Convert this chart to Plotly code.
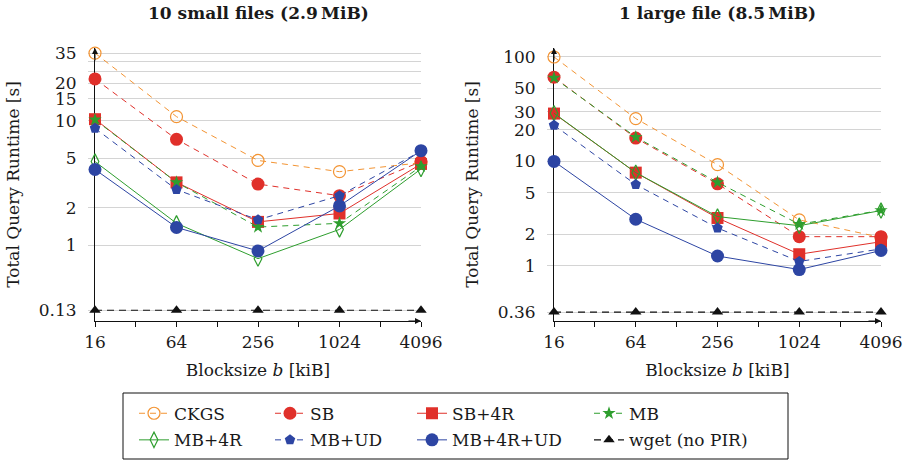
import math
import plotly.graph_objects as go

# ---------------- data ----------------
blocksizes = [16, 64, 256, 1024, 4096]
series_names = ["CKGS", "SB", "SB+4R", "MB", "MB+4R", "MB+UD", "MB+4R+UD", "wget (no PIR)"]

small_ckgs = [35.0, 10.8, 4.8, 3.9, 4.6]
small_sb = [21.7, 7.1, 3.1, 2.5, 4.7]
small_sb4r = [10.3, 3.2, 1.54, 1.8, 4.5]
small_mb = [10.2, 3.2, 1.4, 1.5, 4.3]
small_mb4r = [4.7, 1.5, 0.78, 1.34, 4.1]
small_mbud = [8.7, 2.8, 1.6, 2.5, 5.7]
small_mb4rud = [4.06, 1.39, 0.9, 2.07, 5.75]
small_wget = [0.13, 0.13, 0.13, 0.13, 0.13]

large_ckgs = [100.0, 25.7, 9.3, 2.75, 1.87]
large_sb = [64.0, 16.7, 6.1, 1.9, 1.9]
large_sb4r = [28.7, 7.8, 2.87, 1.29, 1.7]
large_mb = [63.0, 17.1, 6.3, 2.5, 3.4]
large_mb4r = [28.9, 7.8, 2.96, 2.42, 3.38]
large_mbud = [22.2, 6.0, 2.3, 1.1, 1.45]
large_mb4rud = [10.0, 2.79, 1.24, 0.92, 1.4]
large_wget = [0.36, 0.36, 0.36, 0.36, 0.36]

x_ticks = [16, 64, 256, 1024, 4096]
x_minor_ticks = [32, 128, 512, 2048]
left_y_ticks = [1, 2, 5, 10, 15, 20, 25, 30, 35]
left_y_labels = ["1", "2", "5", "10", "15", "20", "", "", "35"]
right_y_ticks = [1, 2, 5, 10, 20, 30, 50, 100]
right_y_labels = ["1", "2", "5", "10", "20", "30", "50", "100"]

# the left panel's y axis is broken: 0.13 s is drawn at this position
LEFT_WGET_POS = 0.30

FONT = "DejaVu Serif"
FS = 17
TXT = "#1a1a1a"
ORANGE = "#F39433"
RED = "#E0302A"
GREEN = "#2E9E2E"
BLUE = "#2D45A3"
BLACK = "#111111"
GRID = "#D4D4D4"

styles = [
    dict(color=ORANGE, dash="6px,5px", symbol="circle-open", size=12, fill=False),
    dict(color=RED, dash="6px,5px", symbol="circle", size=13, fill=True),
    dict(color=RED, dash="solid", symbol="square", size=12, fill=True),
    dict(color=GREEN, dash="6px,5px", symbol="star", size=10, fill=True),
    dict(color=GREEN, dash="solid", symbol="diamond-tall-open", size=11, fill=False),
    dict(color=BLUE, dash="6px,5px", symbol="pentagon", size=11, fill=True),
    dict(color=BLUE, dash="solid", symbol="circle", size=13, fill=True),
    dict(color=BLACK, dash="7px,5px", symbol="triangle-up", size=10, fill=True),
]
legend_ids = ["legend", "legend2", "legend3", "legend4", "legend5", "legend6", "legend7", "legend8"]

small = [small_ckgs, small_sb, small_sb4r, small_mb, small_mb4r, small_mbud, small_mb4rud, small_wget]
large = [large_ckgs, large_sb, large_sb4r, large_mb, large_mb4r, large_mbud, large_mb4rud, large_wget]

fig = go.Figure()

for panel, (data, xa, ya) in enumerate([(small, "x", "y"), (large, "x2", "y2")]):
    for i, (name, vals) in enumerate(zip(series_names, data)):
        st = styles[i]
        yvals = list(vals)
        if panel == 0 and i == 7:
            yvals = [LEFT_WGET_POS for _ in vals]
        fig.add_trace(go.Scatter(
            x=blocksizes, y=yvals, xaxis=xa, yaxis=ya,
            name=name, legend=legend_ids[i], showlegend=(panel == 0),
            mode="lines+markers",
            customdata=vals,
            hovertemplate="b=%{x} kiB<br>%{customdata} s<extra>" + name + "</extra>",
            line=dict(color=st["color"], width=1.1 if i == 7 else 1, dash=st["dash"]),
            marker=dict(symbol=st["symbol"], size=st["size"], color=st["color"],
                        line=dict(color=st["color"], width=1.2 if not st["fill"] else 0)),
            cliponaxis=False,
        ))

W, H = 909, 462
def fx(px):
    return px / W
def fy(px):
    return 1 - px / H

ydom = [fy(321), fy(48)]
axis_font = dict(family=FONT, size=FS, color=TXT)
xr = [math.log10(16) - 1e-6, math.log10(4096) + 1e-6]

common_x = dict(
    type="log", tickvals=x_ticks, ticktext=[str(v) for v in x_ticks],
    showgrid=False, showline=True, linecolor=BLACK, linewidth=1,
    ticks="outside", ticklen=5, tickcolor=BLACK, tickwidth=1,
    minor=dict(tickvals=x_minor_ticks, ticks="outside", ticklen=5, tickcolor=BLACK, showgrid=False),
    tickfont=axis_font, zeroline=False, layer="below traces", automargin=False,
    title=dict(text="Blocksize <i>b</i> [kiB]", font=axis_font, standoff=12),
    ticklabelstandoff=1, range=xr,
)
common_y = dict(
    type="log", showgrid=True, gridcolor=GRID, gridwidth=1,
    showline=True, linecolor=BLACK, linewidth=1,
    ticks="outside", ticklen=6, tickcolor=GRID, tickwidth=1,
    tickfont=axis_font, zeroline=False, layer="below traces", automargin=False,
    title=dict(text="Total Query Runtime [s]", font=axis_font, standoff=14),
    ticklabelstandoff=8,
)

fig.update_layout(
    width=W, height=H, margin=dict(l=0, r=0, t=0, b=0, autoexpand=False),
    paper_bgcolor="white", plot_bgcolor="white",
    font=dict(family=FONT, size=FS, color=TXT),
    xaxis=dict(common_x, domain=[fx(95), fx(421)], anchor="y"),
    yaxis=dict(common_y, domain=ydom, range=[-0.609, 1.585], anchor="x",
               tickvals=[LEFT_WGET_POS] + left_y_ticks, ticktext=["0.13"] + left_y_labels),
    xaxis2=dict(common_x, domain=[fx(554), fx(881)], anchor="y2"),
    yaxis2=dict(common_y, domain=ydom, range=[-0.529, 2.086], anchor="x2",
                tickvals=[0.36] + right_y_ticks, ticktext=["0.36"] + right_y_labels),
    showlegend=True,
)

# one legend per entry, arranged as a 4x2 grid
leg_common = dict(orientation="v", font=dict(family=FONT, size=FS, color=TXT),
                  bgcolor="rgba(0,0,0,0)", borderwidth=0, yanchor="top", xanchor="left",
                  itemwidth=30)
marker_x = [152, 288, 430, 607, 152, 288, 430, 607]
row_y = [411.7, 438.3]
legend_layout = {}
for k, lid in enumerate(legend_ids):
    legend_layout[lid] = dict(leg_common, x=fx(marker_x[k] + 6 - 24), y=fy(row_y[k // 4] - 16))
fig.update_layout(**legend_layout)

# legend frame
fig.add_shape(type="rect", xref="paper", yref="paper",
              x0=fx(123), x1=fx(788), y0=fy(459), y1=fy(393),
              line=dict(color=BLACK, width=1), fillcolor="rgba(0,0,0,0)")

# panel titles
fig.add_annotation(text="<b>10 small files (2.9\u2009MiB)</b>", xref="paper", yref="paper",
                   x=fx(258), y=fy(13), xanchor="center", yanchor="middle", showarrow=False,
                   font=dict(family=FONT, size=FS, color=TXT))
fig.add_annotation(text="<b>1 large file (8.5\u2009MiB)</b>", xref="paper", yref="paper",
                   x=fx(717), y=fy(13), xanchor="center", yanchor="middle", showarrow=False,
                   font=dict(family=FONT, size=FS, color=TXT))

# axis arrows
for xs, ys in [("x", "y"), ("x2", "y2")]:
    fig.add_annotation(xref=xs + " domain", yref=ys + " domain", x=1.0, y=0, ax=-14, ay=0,
                       text="", showarrow=True, arrowhead=2, arrowsize=1.2, arrowwidth=1, arrowcolor=BLACK)
    fig.add_annotation(xref=xs + " domain", yref=ys + " domain", x=0, y=1.0, ax=0, ay=14,
                       text="", showarrow=True, arrowhead=2, arrowsize=1.2, arrowwidth=1, arrowcolor=BLACK)

fig.write_html("out.html", config={"displayModeBar": False},
               post_script="document.body.style.margin='0';")
